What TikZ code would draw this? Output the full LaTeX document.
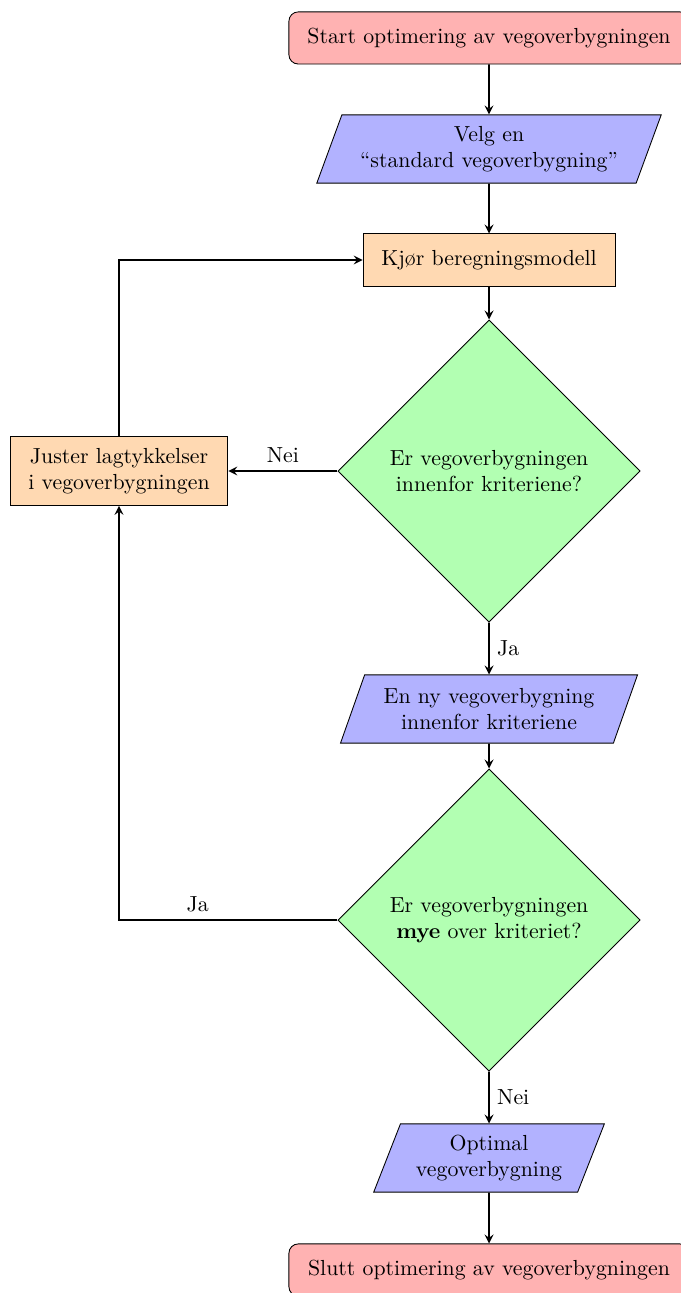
\documentclass[tikz,border=0pt]{standalone}
\usepackage{tikz}
\usetikzlibrary{calc, positioning, shapes.geometric}

\begin{document}
\begin{tikzpicture}[
			startstop/.style={rectangle, rounded corners=1.5mm, draw, fill=red!30, align=center, minimum width=6.45cm, minimum height=0.84cm},
			io/.style={trapezium, trapezium left angle=70, trapezium right angle=110, trapezium stretches=true, draw, fill=blue!30, align=center, minimum height=1.1cm, inner xsep=0pt},
			process/.style={rectangle, draw, fill=orange!30, align=center, minimum height=0.84cm},
			decision/.style={diamond, draw, fill=green!30, align=center, minimum width=4.87cm, minimum height=4.87cm, inner sep=0pt},
			every node/.style={font=\normalsize},
			->, >=stealth,
			]
			\useasboundingbox (0,0) rectangle (10.975,-20.838);
			
			% Noder
			\node[startstop] (Start) at (7.881,-0.612) {Start optimering av vegoverbygningen};
			\node[io, minimum width=5.56cm] (Velg) at (7.881,-2.401) {Velg en\\“standard vegoverbygning”};
			\node[process, minimum width=4.06cm] (Kjor) at (7.881,-4.19) {Kjør beregningsmodell};
			\node[decision] (Innenfor) at (7.881,-7.591) {Er vegoverbygningen\\innenfor kriteriene?};
			\node[process, minimum width=3.51cm, minimum height=1.11cm] (Juster) at (1.918,-7.591) {Juster lagtykkelser\\i vegoverbygningen};
			\node[io, minimum width=4.79cm] (NyVeg) at (7.881,-11.426) {En ny vegoverbygning\\innenfor kriteriene};
			\node[decision] (Mye) at (7.881,-14.827) {Er vegoverbygningen\\\textbf{mye} over kriteriet?};
			\node[io, minimum width=3.74cm] (Optimal) at (7.881,-18.663) {Optimal\\vegoverbygning};
			\node[startstop] (Slutt) at (7.881,-20.467) {Slutt optimering av vegoverbygningen};
			
			% Piler
			\path[thick]
			(Start) edge (Velg)
			(Velg) edge (Kjor)
			(Kjor) edge (Innenfor)
			(Innenfor) edge node[above] {Nei} (Juster)
			(Innenfor) edge node[right] {Ja} (NyVeg)
			(NyVeg) edge (Mye)
			(Mye) edge node[right] {Nei} (Optimal)
			(Optimal) edge (Slutt)
			;
			\draw[thick] (Juster) |- (Kjor);
			\draw[thick] (Mye) -| node[pos=0.32, above] {Ja} (Juster);
			
		\end{tikzpicture}
\end{document}
